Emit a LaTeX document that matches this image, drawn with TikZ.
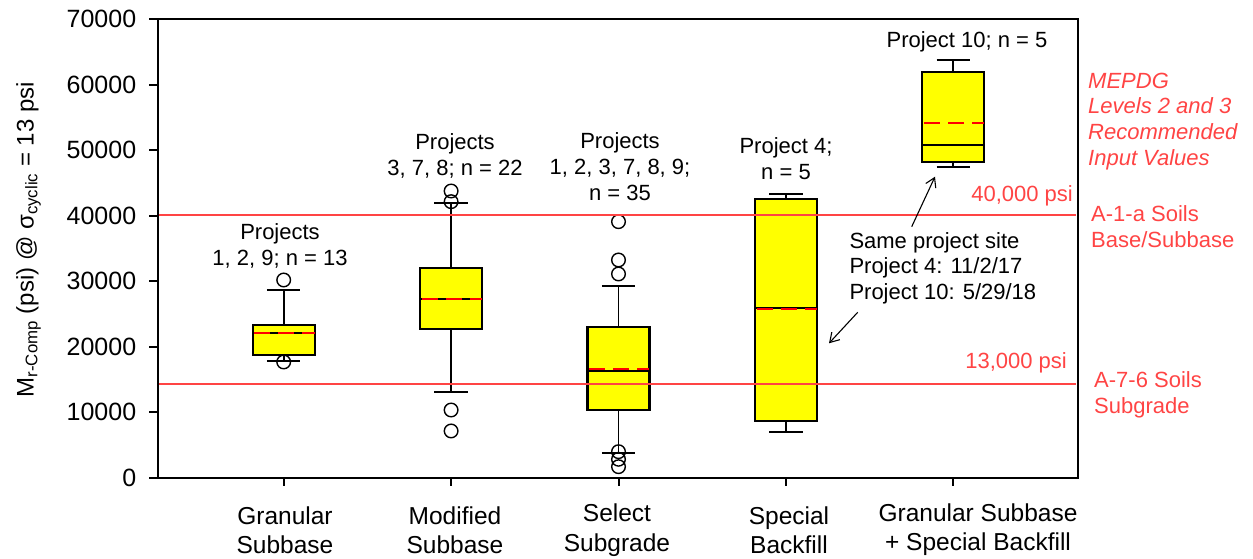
\documentclass[tikz,border=0pt]{standalone}
\usepackage{fontspec}
\setmainfont{Liberation Sans}
\usetikzlibrary{calc,arrows.meta}
\definecolor{refred}{RGB}{255,68,68}
\definecolor{boxyellow}{RGB}{255,255,0}
\tikzstyle{every node}=[inner sep=0pt]
\tikzstyle{every path}=[line join=miter]
\tikzstyle{frame}=[line width=2pt]
\tikzstyle{whisk}=[line width=1.8pt]
\tikzstyle{boxbody}=[fill=boxyellow,draw=black,line width=2.2pt]
\tikzstyle{meanline}=[red,line width=1.8pt,dash pattern=on 16pt off 8pt]
\tikzstyle{outlier}=[draw=black,line width=1.4pt]
\tikzstyle{limit}=[draw=refred,line width=1.6pt]
\tikzstyle{note}=[font=\fontsize{22}{25.8}\selectfont,align=center]
\tikzstyle{rednote}=[note,text=refred]
\tikzstyle{ticklab}=[font=\fontsize{25}{30}\selectfont]
\tikzstyle{catlab}=[font=\fontsize{24.5}{29.5}\selectfont,align=center]
\tikzstyle{pointer}=[line width=1.1pt,-{Straight Barb[length=9pt,width=11pt,line width=1.1pt]}]

\begin{document}
\begin{tikzpicture}[x=1pt,y=1pt]
  \useasboundingbox (0,0) rectangle (1253,559);
  \begin{scope}[shift={(116.3pt,81.3pt)},x=167.4pt,y=6.553pt]
    % boxes: pos/low cap/q1/median/mean/q3/high cap
    \foreach \i/\lo/\qa/\md/\mn/\qb/\hi in {1/17.81/18.73/22.04/22.04/23.30/28.64,
        2/13.08/22.74/27.27/27.27/32.05/41.87,
        3/3.72/10.38/16.33/16.59/23.00/29.30,
        4/7.02/8.70/25.90/25.70/42.48/43.29,
        5/47.41/48.22/50.82/54.17/61.87/63.74} {
      \draw[whisk] (\i,\lo) -- (\i,\qa) (\i,\qb) -- (\i,\hi);
      \draw[whisk] (\i-0.1,\lo) -- (\i+0.1,\lo) (\i-0.1,\hi) -- (\i+0.1,\hi);
      \draw[boxbody] (\i-0.185,\qa) rectangle (\i+0.185,\qb);
      \draw[whisk] (\i-0.185,\md) -- (\i+0.185,\md);
      \draw[meanline] (\i-0.175,\mn) -- (\i+0.185,\mn);
    }
    % outliers
    \foreach \i/\v in {1/30.17,1/17.66,2/43.75,2/42.12,2/10.33,2/7.13,
        3/39.07,3/33.22,3/31.09,3/3.97,3/2.81,3/1.68}
      \draw[outlier] (\i,\v) circle[radius=6.8pt];
    % frame and ticks
    \draw[frame] (0.2473,0) rectangle (5.7433,70);
    \foreach \v/\lab in {0/0,10/10000,20/20000,30/30000,40/40000,50/50000,60/60000,70/70000}
      \draw[frame] (0.2473,\v) -- ++(-8.7pt,0) node[ticklab,anchor=east,xshift=-11.8pt] {\lab};
    \foreach \i in {1,...,5}
      \draw[frame] (\i,0) -- ++(0,-8.3pt);
    % limits
    \draw[limit] (0.2573,40.05) -- (5.7333,40.05);
    \draw[limit] (0.2573,14.3) -- (5.7333,14.3);
  \end{scope}

  % axis title
  \node[font=\fontsize{24}{28}\selectfont,rotate=90] (ytitle) at (28.5,319.4)
    {M\textsubscript{r-Comp} (psi) @ σ\textsubscript{cyclic} = 13 psi};

  % category labels
  \node[catlab] (granular) at (285,29) {Granular\\Subbase};
  \node[catlab] (modified) at (455,29) {Modified\\Subbase};
  \node[catlab] (select) at (617,29) {Select\\Subgrade};
  \node[catlab] (special) at (789,29) {Special\\Backfill};
  \node[catlab] (combined) at (978,29.5) {Granular Subbase\\+ Special Backfill};

  % project labels
  \node[note] (pj1) at (280,313) {Projects\\1, 2, 9; n = 13};
  \node[note] (pj2) at (455,403) {Projects\\3, 7, 8; n = 22};
  \node[note] (pj3) at (620,392.5) {Projects\\1, 2, 3, 7, 8, 9;\\n = 35};
  \node[note] (pj4) at (786,400.7) {Project 4;\\n = 5};
  \node[note] (pj5) at (967,517) {Project 10; n = 5};

  % limit labels
  \node[rednote,anchor=east] (hi) at (1073,363) {40,000 psi};
  \node[rednote,anchor=east] (lo) at (1067,196) {13,000 psi};
  \node[rednote,anchor=west,align=left,font=\fontsize{22}{25.8}\selectfont\itshape] (mepdg) at (1088,437.5)
    {MEPDG\\Levels 2 and 3\\Recommended\\Input Values};
  \node[rednote,anchor=west,align=left] (base) at (1091,332.5) {A-1-a Soils\\Base/Subbase};
  \node[rednote,anchor=west,align=left] (subgrade) at (1094,164) {A-7-6 Soils\\Subgrade};

  % same site note
  \node[note,anchor=west,align=left] (site) at (849.3,290.7)
    {Same project site\\Project 4: 11/2/17\\Project 10: 5/29/18};
  \coordinate (fromtop) at (911.7,332.3);
  \coordinate (tobox5) at (935,382.3);
  \coordinate (frombot) at (857.7,246.7);
  \coordinate (tobox4) at (829,215.7);
  \draw[pointer] (fromtop) -- (tobox5);
  \draw[pointer] (frombot) -- (tobox4);
\end{tikzpicture}
\end{document}
